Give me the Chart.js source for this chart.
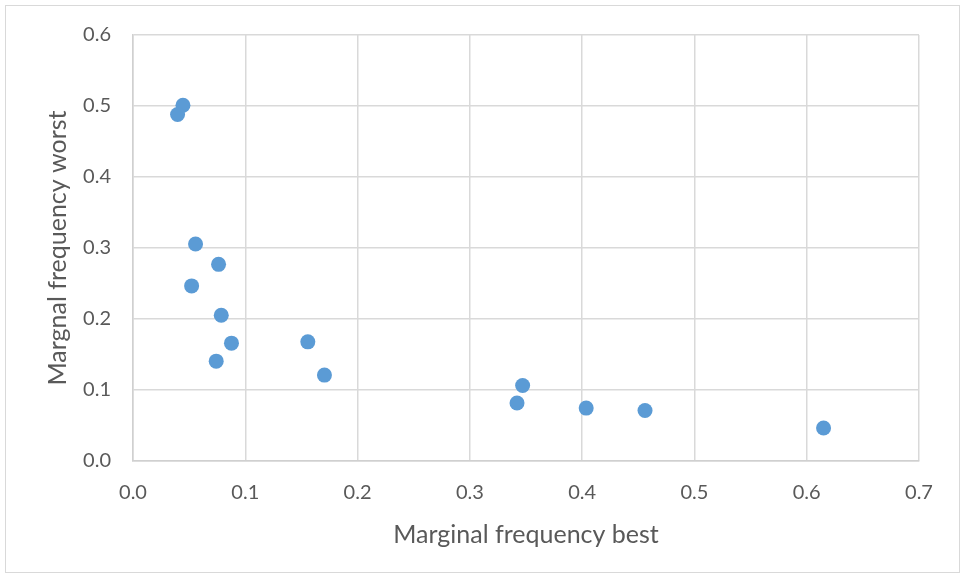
<!DOCTYPE html>
<html>
<head>
<meta charset="utf-8">
<script src="https://cdn.jsdelivr.net/npm/chart.js@4/dist/chart.umd.min.js"></script>
<style>
  html, body { margin: 0; padding: 0; background: #fff; }
  #frame { position: absolute; left: 5px; top: 5px; width: 953px; height: 566px; border: 1px solid #d9d9d9; }
  #wrap { position: absolute; left: 0; top: 0; width: 965px; height: 578px; }
</style>
</head>
<body>
<div id="frame"></div>
<div id="wrap"><canvas id="c" width="965" height="578"></canvas></div>
<script>
// Marginal frequencies per attribute level (best vs worst choice)
const bestFreq  = [0.0445, 0.0397, 0.0557, 0.0762, 0.0522, 0.0786, 0.0877, 0.0741, 0.1557, 0.1705, 0.347, 0.342, 0.4036, 0.456, 0.615];
const worstFreq = [0.501, 0.488, 0.3056, 0.277, 0.2466, 0.2053, 0.166, 0.1406, 0.1678, 0.121, 0.1063, 0.0816, 0.0745, 0.0712, 0.0464];
const xTickValues = [0, 0.1, 0.2, 0.3, 0.4, 0.5, 0.6, 0.7];
const yTickValues = [0, 0.1, 0.2, 0.3, 0.4, 0.5, 0.6];
const xTitle = 'Marginal frequency best';
const yTitle = 'Margnal frequency worst';

const points = bestFreq.map((b, i) => ({ x: b, y: worstFreq[i] }));

const FONT = 'Lato, "Open Sans", sans-serif';
const TEXT = '#595959';
const GRID = '#d9d9d9';

new Chart(document.getElementById('c'), {
  type: 'scatter',
  data: {
    datasets: [{
      data: points,
      backgroundColor: '#5b9bd5',
      borderWidth: 0,
      pointRadius: 7.5,
      pointHoverRadius: 7.5
    }]
  },
  options: {
    responsive: false,
    animation: false,
    layout: { padding: { left: 0, top: 35, right: 46, bottom: 0 } },
    plugins: { legend: { display: false }, tooltip: { enabled: false } },
    scales: {
      x: {
        type: 'linear',
        min: 0, max: 0.7,
        afterBuildTicks: s => { s.ticks = xTickValues.map(v => ({ value: v })); },
        afterFit: s => { s.height = 117; },
        grid: { color: GRID, lineWidth: 1.5, drawTicks: false },
        border: { color: '#d0d0d0', width: 1.5 },
        ticks: {
          padding: 20,
          color: TEXT,
          font: { family: FONT, size: 20 },
          callback: v => Number(v).toFixed(1)
        },
        title: {
          display: true,
          text: xTitle,
          color: TEXT,
          font: { family: FONT, size: 25 },
          padding: { top: 0, bottom: 28 }
        }
      },
      y: {
        type: 'linear',
        min: 0, max: 0.6,
        afterBuildTicks: s => { s.ticks = yTickValues.map(v => ({ value: v })); },
        afterFit: s => { s.width = 133; },
        grid: { color: GRID, lineWidth: 1.5, drawTicks: false },
        border: { color: '#d0d0d0', width: 1.5 },
        ticks: {
          padding: 22,
          color: TEXT,
          font: { family: FONT, size: 20 },
          callback: v => Number(v).toFixed(1)
        },
        title: {
          display: true,
          text: yTitle,
          color: TEXT,
          font: { family: FONT, size: 25 },
          padding: { top: 43, bottom: 0 }
        }
      }
    }
  }
});
</script>
</body>
</html>
